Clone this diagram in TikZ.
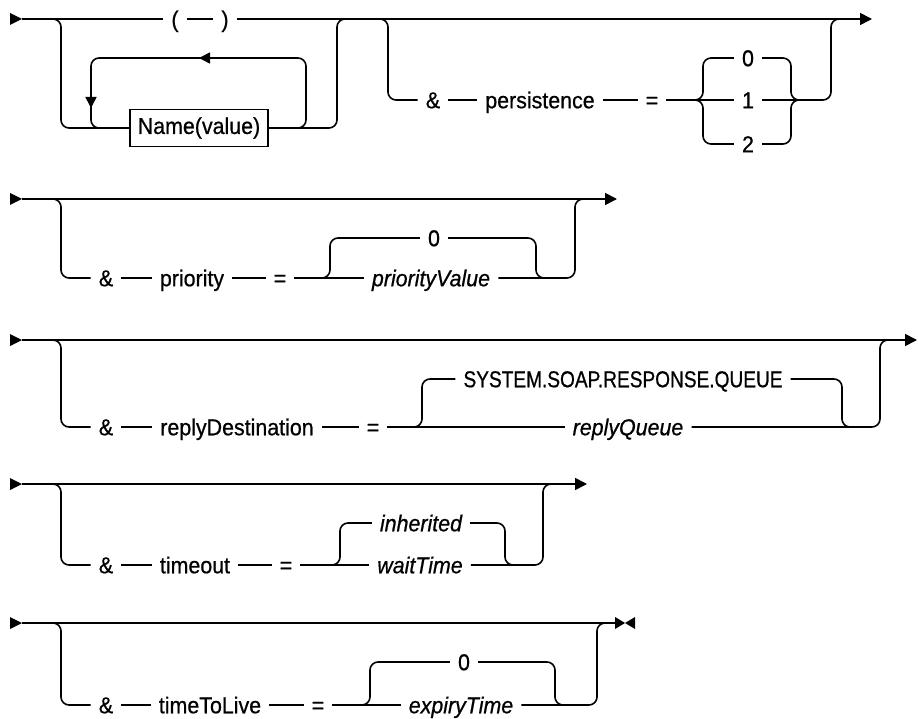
\documentclass[tikz,border=0pt]{standalone}
\usepackage{fontspec}
\setmainfont[FakeStretch=0.93,FakeBold=0.7]{Liberation Sans}
\newfontfamily\sysfont[FakeStretch=0.83,FakeBold=0.7]{Liberation Sans}
\usetikzlibrary{arrows.meta}
\begin{document}
\begin{tikzpicture}[x=1pt,y=-1pt,
  ln/.style={line width=1.6pt},
  rr/.style={line width=1.6pt, rounded corners=8pt},
  endarrow/.style={-{Triangle[length=12pt,width=12pt]}},
  looparrow/.style={line width=1.6pt,-{Triangle[length=11pt,width=11pt]}},
  tx/.style={font=\fontsize{23}{27}\selectfont, inner xsep=8pt, inner ysep=0pt, text height=16.5pt, text depth=0pt, anchor=center},
  it/.style={font=\fontsize{23}{27}\selectfont\itshape},
  namebox/.style={draw, line width=1.3pt, font=\fontsize{23}{27}\selectfont, minimum width=138pt, minimum height=37pt, inner sep=0pt}
]
\useasboundingbox (0,0) rectangle (918,719);

% ---------------- Row 1 ----------------
\fill (10,13) -- (22,19) -- (10,25) -- cycle;
\coordinate (s1) at (22,19);
\coordinate (e1) at (872,19);
\node[tx] (lp) at (175,19) {(};
\node[tx] (rp) at (225,19) {)};
\draw[ln] (s1) -- (lp);
\draw[ln] (lp) -- (rp);
\draw[ln,endarrow] (rp) -- (e1);

\node[namebox] (nv) at (199,128) {Name(value)};
\draw[rr] (52,19) -- (61,19) -- (61,128) -- (nv.west);
\draw[rr] (nv.east) -- (337,128) -- (337,19) -- (346,19);
\draw[rr] (nv.east) -- (306,128) -- (306,58) -- (91,58) -- (91,128) -- (nv.west);
\draw[looparrow] (212,58) -- (199,58);
\draw[looparrow] (91,96) -- (91,108);

\node[tx] (amp1) at (433,100) {\&};
\node[tx] (kw1) at (540,100) {persistence};
\node[tx] (eq1) at (652,100) {=};
\node[tx] (p0) at (748,58) {0};
\node[tx] (p1) at (748,100) {1};
\node[tx] (p2) at (748,144) {2};
\draw[rr] (379,19) -- (388,19) -- (388,100) -- (amp1);
\draw[ln] (amp1) -- (kw1);
\draw[ln] (kw1) -- (eq1);
\draw[ln] (eq1) -- (p1);
\draw[rr] (695,100) -- (703,100) -- (703,58) -- (p0);
\draw[rr] (695,100) -- (703,100) -- (703,144) -- (p2);
\draw[rr] (p0) -- (791,58) -- (791,100) -- (799,100);
\draw[rr] (p2) -- (791,144) -- (791,100) -- (799,100);
\draw[rr] (p1) -- (831,100) -- (831,19) -- (840,19);

% ---------------- Row 2 ----------------
\fill (10,193) -- (22,199) -- (10,205) -- cycle;
\coordinate (s2) at (22,199);
\coordinate (e2) at (617,199);
\draw[ln,endarrow] (s2) -- (e2);
\node[tx] (amp2) at (106,278) {\&};
\node[tx] (kw2) at (192,278) {priority};
\node[tx] (eq2) at (280,278) {=};
\node[tx] (d2) at (434,238) {0};
\node[tx,it] (v2) at (431,278) {priorityValue};
\draw[rr] (52,199) -- (61,199) -- (61,278) -- (amp2);
\draw[ln] (amp2) -- (kw2);
\draw[ln] (kw2) -- (eq2);
\draw[ln] (eq2) -- (v2);
\draw[rr] (322,278) -- (330,278) -- (330,238) -- (d2);
\draw[rr] (d2) -- (536,238) -- (536,278) -- (545,278);
\draw[rr] (v2) -- (575,278) -- (575,199) -- (585,199);

% ---------------- Row 3 ----------------
\fill (10,334) -- (22,340) -- (10,346) -- cycle;
\coordinate (s3) at (22,340);
\coordinate (e3) at (917,340);
\draw[ln,endarrow] (s3) -- (e3);
\node[tx] (amp3) at (106,427) {\&};
\node[tx] (kw3) at (237,427) {replyDestination};
\node[tx] (eq3) at (373,427) {=};
\node[tx,font=\fontsize{23}{27}\sysfont] (d3) at (623,379) {SYSTEM.SOAP.RESPONSE.QUEUE};
\node[tx,it] (v3) at (628,427) {replyQueue};
\draw[rr] (52,340) -- (61,340) -- (61,427) -- (amp3);
\draw[ln] (amp3) -- (kw3);
\draw[ln] (kw3) -- (eq3);
\draw[ln] (eq3) -- (v3);
\draw[rr] (414,427) -- (422,427) -- (422,379) -- (d3);
\draw[rr] (d3) -- (842,379) -- (842,427) -- (851,427);
\draw[rr] (v3) -- (880,427) -- (880,340) -- (889,340);

% ---------------- Row 4 ----------------
\fill (10,478) -- (22,484) -- (10,490) -- cycle;
\coordinate (s4) at (22,484);
\coordinate (e4) at (587,484);
\draw[ln,endarrow] (s4) -- (e4);
\node[tx] (amp4) at (106,565) {\&};
\node[tx] (kw4) at (195,565) {timeout};
\node[tx] (eq4) at (286,565) {=};
\node[tx,it] (d4) at (421,523) {inherited};
\node[tx,it] (v4) at (420,565) {waitTime};
\draw[rr] (52,484) -- (61,484) -- (61,565) -- (amp4);
\draw[ln] (amp4) -- (kw4);
\draw[ln] (kw4) -- (eq4);
\draw[ln] (eq4) -- (v4);
\draw[rr] (332,565) -- (340,565) -- (340,523) -- (d4);
\draw[rr] (d4) -- (505,523) -- (505,565) -- (514,565);
\draw[rr] (v4) -- (543,565) -- (543,484) -- (552,484);

% ---------------- Row 5 ----------------
\fill (10,617) -- (22,623) -- (10,629) -- cycle;
\coordinate (s5) at (22,623);
\coordinate (e5) at (615,623);
\draw[ln] (s5) -- (e5);
\fill (615,617) -- (625,623) -- (615,629) -- cycle;
\fill (635,617) -- (625,623) -- (635,629) -- cycle;
\node[tx] (amp5) at (106,705) {\&};
\node[tx] (kw5) at (210,705) {timeToLive};
\node[tx] (eq5) at (318,705) {=};
\node[tx] (d5) at (464,662) {0};
\node[tx,it] (v5) at (461,705) {expiryTime};
\draw[rr] (52,623) -- (61,623) -- (61,705) -- (amp5);
\draw[ln] (amp5) -- (kw5);
\draw[ln] (kw5) -- (eq5);
\draw[ln] (eq5) -- (v5);
\draw[rr] (362,705) -- (370,705) -- (370,662) -- (d5);
\draw[rr] (d5) -- (555,662) -- (555,705) -- (564,705);
\draw[rr] (v5) -- (597,705) -- (597,623) -- (606,623);
\end{tikzpicture}
\end{document}
